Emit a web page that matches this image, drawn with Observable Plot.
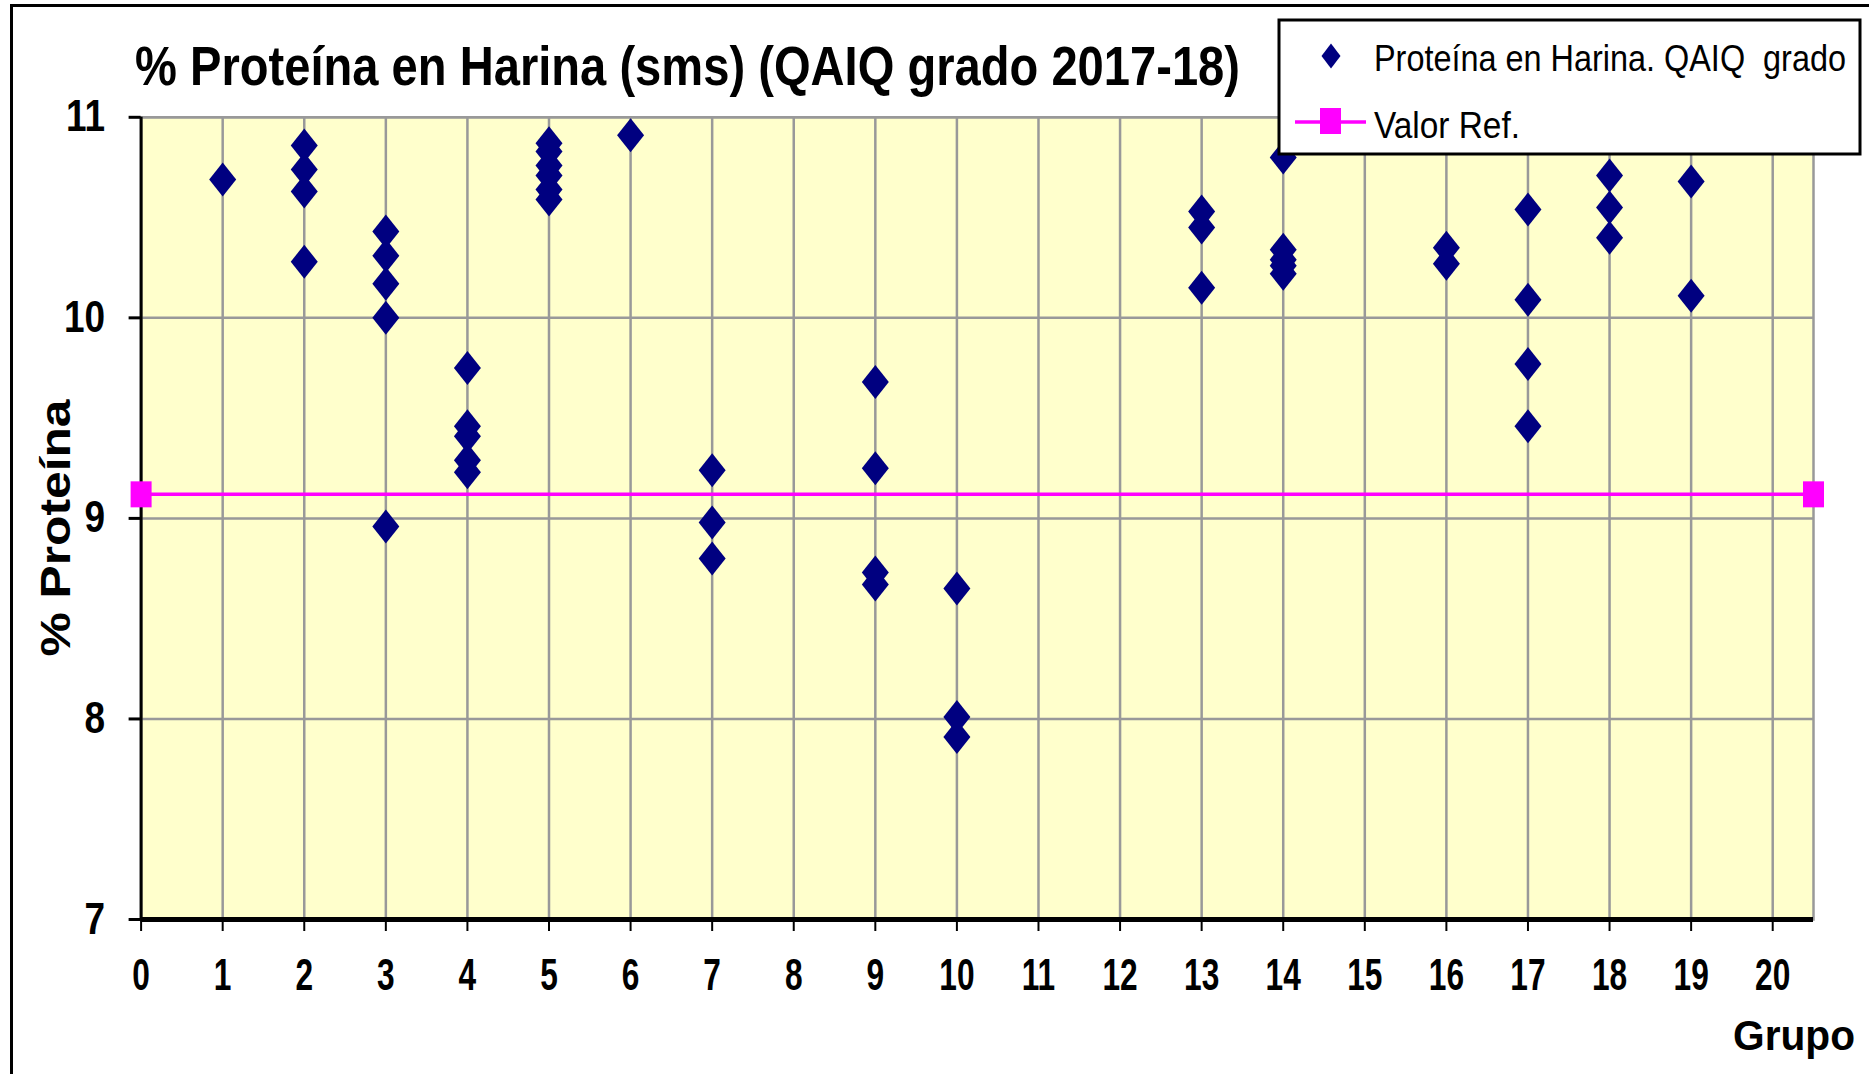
<!DOCTYPE html>
<html><head><meta charset="utf-8">
<script src="https://cdn.jsdelivr.net/npm/d3@7"></script>
<script src="https://cdn.jsdelivr.net/npm/@observablehq/plot@0.6"></script>
<style>
html,body{margin:0;padding:0;background:#fff;}
#wrap{position:relative;width:1869px;height:1074px;overflow:hidden;background:#fff;}
#border{position:absolute;left:10px;top:4px;width:2000px;height:2000px;border:3px solid #000;box-sizing:border-box;}
#plot{position:absolute;left:0;top:0;}
#overlay{position:absolute;left:0;top:0;}
#overlay text{white-space:pre;}
</style></head><body>
<div id="wrap"><div id="border"></div><div id="plot"></div><svg id="overlay" width="1869" height="1074"></svg></div>
<script>
// ---- data ----
const grupo = [1,
  2, 2, 2, 2,
  3, 3, 3, 3, 3,
  4, 4, 4, 4, 4,
  5, 5, 5, 5, 5, 5,
  6,
  7, 7, 7,
  9, 9, 9, 9,
  10, 10, 10,
  13, 13, 13,
  14, 14, 14, 14, 14,
  16, 16,
  17, 17, 17, 17,
  18, 18, 18,
  19, 19];
const proteina = [10.69,
  10.86, 10.74, 10.63, 10.28,
  10.43, 10.31, 10.17, 10.00, 8.96,
  9.75, 9.46, 9.41, 9.29, 9.23,
  10.87, 10.83, 10.76, 10.71, 10.64, 10.59,
  10.91,
  9.24, 8.98, 8.80,
  9.68, 9.25, 8.73, 8.67,
  8.65, 8.01, 7.91,
  10.53, 10.45, 10.15,
  10.80, 10.34, 10.29, 10.26, 10.22,
  10.35, 10.27,
  10.54, 10.09, 9.77, 9.46,
  10.71, 10.55, 10.40,
  10.68, 10.11];
const refGrupo = [0, 20.5];
const refValor = [9.12, 9.12];
const xTicks = [0,1,2,3,4,5,6,7,8,9,10,11,12,13,14,15,16,17,18,19,20];
const yTicks = [7, 8, 9, 10, 11];
const xGrid = [1,2,3,4,5,6,7,8,9,10,11,12,13,14,15,16,17,18,19,20];
const yGrid = [8, 9, 10, 11];
const titulo = "% Proteína en Harina (sms) (QAIQ grado 2017-18)";
const ejeY = "% Proteína";
const ejeX = "Grupo";
const leyenda = ["Proteína en Harina. QAIQ  grado", "Valor Ref."];

// ---- build ----
const datos = grupo.map((g, i) => ({grupo: g, proteina: proteina[i]}));
const ref = refGrupo.map((g, i) => ({grupo: g, valor: refValor[i]}));
const F = "'Liberation Sans', Arial, sans-serif";

const diamond = {draw(ctx, size) {
  const r = Math.sqrt(size / Math.PI), h = r * 1.7, w = r * 1.35;
  ctx.moveTo(0, -h); ctx.lineTo(w, 0); ctx.lineTo(0, h); ctx.lineTo(-w, 0); ctx.closePath();
}};
const square = {draw(ctx, size) {
  const r = Math.sqrt(size / Math.PI), w = r * 1.05, h = r * 1.3;
  ctx.rect(-w, -h, 2 * w, 2 * h);
}};

const chart = Plot.plot({
  width: 1869, height: 1074,
  marginLeft: 140.6, marginRight: 56, marginTop: 116.8, marginBottom: 155,
  x: {domain: [0, 20.5]},
  y: {domain: [7, 11]},
  style: {background: "transparent", color: "black", overflow: "visible"},
  marks: [
    Plot.frame({fill: "#FFFFCC", stroke: "#999999", strokeWidth: 2.5}),
    Plot.ruleX(xGrid, {stroke: "#999999", strokeWidth: 2.5}),
    Plot.ruleY(yGrid, {stroke: "#999999", strokeWidth: 2.5}),
    Plot.ruleX([0], {stroke: "black", strokeWidth: 3}),
    Plot.ruleY([7], {stroke: "black", strokeWidth: 5}),
    Plot.axisY(yTicks, {tickSize: 12, tickPadding: 24, strokeWidth: 3, fontSize: 44, fontWeight: "bold", fontFamily: F, tickFormat: d3.format("d"), label: null}),
    Plot.axisX(xTicks, {tickSize: 12, tickPadding: 27, strokeWidth: 2, fontSize: 44, fontWeight: "bold", fontFamily: F, tickFormat: d3.format("d"), label: null}),
    Plot.line(ref, {x: "grupo", y: "valor", stroke: "#FF00FF", strokeWidth: 3.5}),
    Plot.dot(ref, {x: "grupo", y: "valor", symbol: square, r: 10, fill: "#FF00FF", stroke: "none"}),
    Plot.dot(datos, {x: "grupo", y: "proteina", symbol: diamond, r: 10, fill: "#000080", stroke: "none"})
  ]
});
document.getElementById("plot").append(chart);

// condense tick labels (narrow look of the original)
function condense(sel, k) {
  d3.select(chart).selectAll(sel).each(function() {
    const L = this.getComputedTextLength();
    this.setAttribute("textLength", L * k);
    this.setAttribute("lengthAdjust", "spacingAndGlyphs");
  });
}
condense('g[aria-label="x-axis tick label"] text', 0.72);
condense('g[aria-label="y-axis tick label"] text', 0.84);

// ---- overlay texts & legend (original is vertically stretched) ----
const ov = d3.select("#overlay").attr("font-family", F);
ov.append("text").attr("transform", "translate(135,85) scale(1,1.19)").attr("font-size", 47).attr("font-weight", "bold")
  .attr("textLength", 1105).attr("lengthAdjust", "spacingAndGlyphs").text(titulo);
ov.append("text").attr("transform", "translate(70,528) rotate(-90)").attr("text-anchor", "middle")
  .attr("font-size", 42).attr("font-weight", "bold")
  .attr("textLength", 257).attr("lengthAdjust", "spacingAndGlyphs").text(ejeY);
ov.append("text").attr("transform", "translate(1733,1050) scale(1,1.05)").attr("font-size", 40.5).attr("font-weight", "bold")
  .attr("textLength", 122).attr("lengthAdjust", "spacingAndGlyphs").text(ejeX);

const lg = ov.append("g");
lg.append("rect").attr("x", 1279).attr("y", 20).attr("width", 581).attr("height", 134)
  .attr("fill", "#fff").attr("stroke", "#000").attr("stroke-width", 3);
lg.append("path").attr("d", "M1331,43.5L1340.5,56L1331,68.5L1321.5,56Z").attr("fill", "#000080");
lg.append("text").attr("transform", "translate(1374,71) scale(1,1.15)").attr("font-size", 32)
  .attr("textLength", 472).attr("lengthAdjust", "spacingAndGlyphs").text(leyenda[0]);
lg.append("line").attr("x1", 1295).attr("x2", 1366).attr("y1", 122).attr("y2", 122)
  .attr("stroke", "#FF00FF").attr("stroke-width", 3.5);
lg.append("rect").attr("x", 1320).attr("y", 108).attr("width", 21).attr("height", 26).attr("fill", "#FF00FF");
lg.append("text").attr("transform", "translate(1374,138) scale(1,1.15)").attr("font-size", 32)
  .attr("textLength", 146).attr("lengthAdjust", "spacingAndGlyphs").text(leyenda[1]);
</script>
</body></html>
